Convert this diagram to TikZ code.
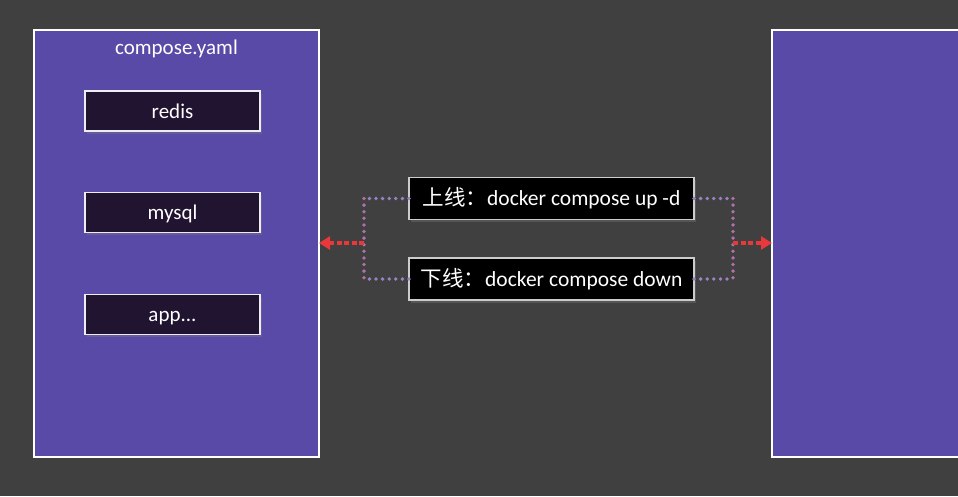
\documentclass[tikz,border=0pt]{standalone}
\usepackage{fontspec}
\setmainfont{Carlito}
\newfontfamily\cjk{Noto Sans CJK SC}
\usetikzlibrary{shadows,arrows.meta}
\definecolor{bgc}{HTML}{404040}
\definecolor{panel}{HTML}{5A4AA8}
\definecolor{svc}{HTML}{211430}
\definecolor{dotp}{HTML}{9B82C4}
\definecolor{dotv}{HTML}{B070A8}
\definecolor{redc}{HTML}{E8383C}
\tikzset{
  panelbox/.style={draw=white, line width=1.3pt, fill=panel, inner sep=0pt, outer sep=0pt},
  svcbox/.style={draw=white!90!panel, line width=1.5pt, fill=svc, minimum width=175pt, minimum height=40pt, inner sep=0pt, outer sep=0pt, text=white, text height=16pt, text depth=2pt, font=\fontsize{21}{24}\selectfont, drop shadow={opacity=0.35, shadow xshift=1.5pt, shadow yshift=-2.5pt}},
  cmdbox/.style={draw=white!80!black, line width=1.8pt, fill=black, minimum width=285pt, minimum height=42pt, inner sep=0pt, outer sep=0pt, text=white, font=\fontsize{21.5}{24}\selectfont, drop shadow={opacity=0.35, shadow xshift=1.5pt, shadow yshift=-2.5pt}},
  dotline/.style={line width=3.8pt, line cap=round, dash pattern=on 0pt off 6.6pt},
  redarrow/.style={draw=redc, line width=3.4pt, dash pattern=on 5pt off 2.5pt, -{Triangle[length=11pt, width=13pt]}}
}
\begin{document}
\begin{tikzpicture}[x=1pt, y=-1pt]
\useasboundingbox (0,0) rectangle (958,496);
\clip (0,0) rectangle (958,496);
\fill[bgc] (0,0) rectangle (958,496);
% panels
\node[panelbox, minimum width=285pt, minimum height=427pt] (left) at (176.5,243.5) {};
\node[panelbox, minimum width=220pt, minimum height=427pt, anchor=west] (right) at (772,243.5) {};
\node[text=white, font=\fontsize{21}{24}\selectfont] (title) at (176.5,49) {compose.yaml};
% services
\node[svcbox] (redis) at (172.5,111) {redis};
\node[svcbox] (mysql) at (172.5,212.5) {mysql};
\node[svcbox] (app) at (172.5,314.5) {app...};
% commands
\node[cmdbox] (up) at (551.5,198.5) {{\cjk 上线：}docker compose up -d};
\node[cmdbox] (down) at (551.5,279) {{\cjk 下线：}docker compose down};
% junctions
\coordinate (jl) at (364,243);
\coordinate (jr) at (733,243);
% left dotted connectors
\draw[dotline, dotp] (up.west) -- (up.west -| jl);
\draw[dotline, dotp] (down.west) -- (down.west -| jl);
\draw[dotline, dotv] (up.west -| jl) -- (down.west -| jl);
% right dotted connectors
\draw[dotline, dotp] (up.east) -- (up.east -| jr);
\draw[dotline, dotp] (down.east) -- (down.east -| jr);
\draw[dotline, dotv] (up.east -| jr) -- (down.east -| jr);
% red arrows
\draw[redarrow] (jl) -- (left.east |- jl);
\draw[redarrow] (jr) -- (right.west |- jr);
\end{tikzpicture}
\end{document}
